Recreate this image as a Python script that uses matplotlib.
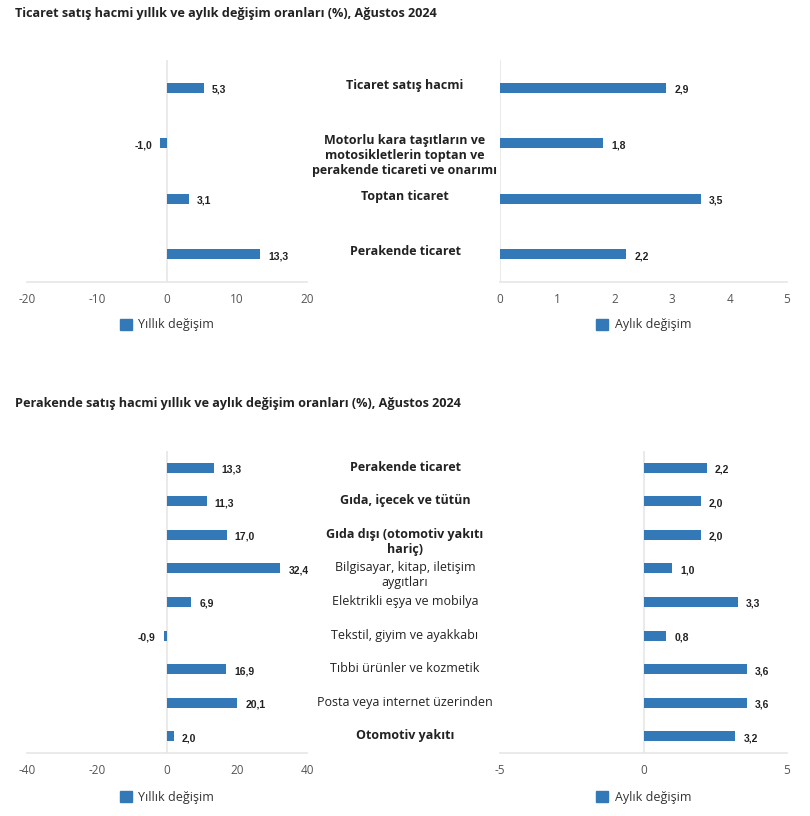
import matplotlib
matplotlib.use("Agg")
import matplotlib.pyplot as plt
from matplotlib.transforms import blended_transform_factory

plt.rcParams['font.family'] = ['Open Sans', 'DejaVu Sans']

# --- data ---
top_title = "Ticaret satış hacmi yıllık ve aylık değişim oranları (%), Ağustos 2024"
top_cats = ["Ticaret satış hacmi",
            "Motorlu kara taşıtların ve\nmotosikletlerin toptan ve\nperakende ticareti ve onarımı",
            "Toptan ticaret",
            "Perakende ticaret"]
top_bold = [True, True, True, True]
top_yearly = [5.3, -1.0, 3.1, 13.3]
top_monthly = [2.9, 1.8, 3.5, 2.2]

bot_title = "Perakende satış hacmi yıllık ve aylık değişim oranları (%), Ağustos 2024"
bot_cats = ["Perakende ticaret",
            "Gıda, içecek ve tütün",
            "Gıda dışı (otomotiv yakıtı\nhariç)",
            "Bilgisayar, kitap, iletişim\naygıtları",
            "Elektrikli eşya ve mobilya",
            "Tekstil, giyim ve ayakkabı",
            "Tıbbi ürünler ve kozmetik",
            "Posta veya internet üzerinden",
            "Otomotiv yakıtı"]
bot_bold = [True, True, True, False, False, False, False, False, True]
bot_yearly = [13.3, 11.3, 17.0, 32.4, 6.9, -0.9, 16.9, 20.1, 2.0]
bot_monthly = [2.2, 2.0, 2.0, 1.0, 3.3, 0.8, 3.6, 3.6, 3.2]

BAR = '#3379b7'
GRID = '#e6e6e6'
W, H = 810, 816

fig = plt.figure(figsize=(W / 100, H / 100), dpi=100)


def px_axes(x0, x1, y0, y1):
    return fig.add_axes([x0 / W, 1 - y1 / H, (x1 - x0) / W, (y1 - y0) / H])


def fmt(v):
    return f"{v:.1f}".replace('.', ',')


def draw_panel(ax, vals, lim, ticks, bar_h, legend_label, legend_y):
    n = len(vals)
    ax.barh(range(n), vals, height=bar_h, color=BAR, zorder=3)
    ax.set_ylim(n - 0.5, -0.5)
    ax.set_xlim(*lim)
    ax.set_xticks(ticks)
    ax.set_xticklabels([str(t) for t in ticks])
    ax.set_yticks([])
    ax.tick_params(axis='x', length=0, pad=8, labelsize=8.5, labelcolor='#555555')
    for s in ['top', 'right', 'left']:
        ax.spines[s].set_visible(False)
    ax.spines['bottom'].set_color(GRID)
    ax.spines['bottom'].set_linewidth(1.2)
    ax.axvline(0, color=GRID, lw=1.2, zorder=1)
    for i, v in enumerate(vals):
        off = 8 if v >= 0 else -8
        ax.annotate(fmt(v), (v, i), xytext=(off, -2), textcoords='offset pixels',
                    ha='left' if v >= 0 else 'right', va='center',
                    fontsize=7.5, fontweight='bold', family='Liberation Sans',
                    color='#222222')
    bb = ax.get_position()
    cx = bb.x0 + bb.width / 2
    ax.legend([plt.Rectangle((0, 0), 1, 1, color=BAR)], [legend_label],
              loc='center', bbox_to_anchor=(cx, 1 - legend_y / H),
              bbox_transform=fig.transFigure, frameon=False, fontsize=9,
              handlelength=1.0, handleheight=1.0, handletextpad=0.5,
              labelcolor='#333333')


def draw_labels(ax, cats, bold, x_px, up_px):
    tr = blended_transform_factory(fig.transFigure, ax.transData)
    for i, (c, b) in enumerate(zip(cats, bold)):
        ax.annotate(c, (x_px / W, i), xycoords=tr, xytext=(0, up_px),
                    textcoords='offset pixels', ha='center', va='top',
                    fontsize=9, fontweight='bold' if b else 'normal',
                    color='#222222', linespacing=1.2, annotation_clip=False)


# top section
fig.text(15 / W, 1 - 13 / H, top_title, fontsize=9.1, fontweight='bold',
         va='center', ha='left', color='#222222')
ax1 = px_axes(27, 307, 60, 282)
draw_panel(ax1, top_yearly, (-20, 20), [-20, -10, 0, 10, 20], 0.18, "Yıllık değişim", 325)
ax2 = px_axes(500, 787, 60, 282)
draw_panel(ax2, top_monthly, (0, 5), [0, 1, 2, 3, 4, 5], 0.18, "Aylık değişim", 325)
draw_labels(ax2, top_cats, top_bold, 405, 9)

# bottom section
fig.text(15 / W, 1 - 404 / H, bot_title, fontsize=9.1, fontweight='bold',
         va='center', ha='left', color='#222222')
ax3 = px_axes(27, 307, 451, 753)
draw_panel(ax3, bot_yearly, (-40, 40), [-40, -20, 0, 20, 40], 0.3, "Yıllık değişim", 797)
ax4 = px_axes(500, 787, 451, 753)
draw_panel(ax4, bot_monthly, (-5, 5), [-5, 0, 5], 0.3, "Aylık değişim", 797)
draw_labels(ax4, bot_cats, bot_bold, 405, 7)

fig.savefig("out.png", dpi=100)
